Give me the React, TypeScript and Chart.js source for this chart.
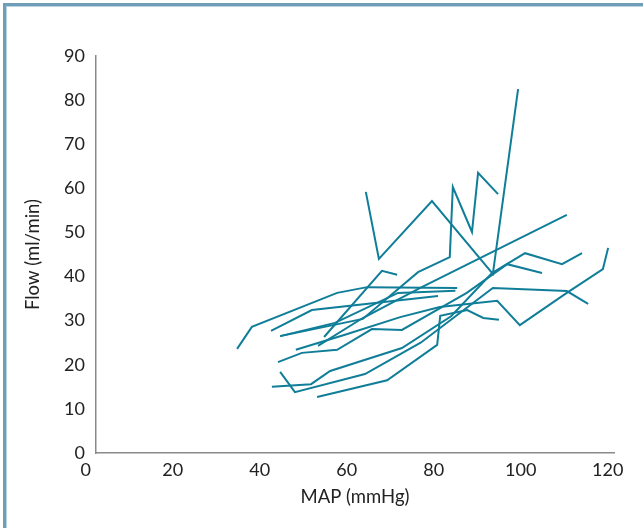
import React, { useEffect, useRef } from "react";
import { Chart, registerables } from "chart.js";
Chart.register(...registerables);

const xTickValues = [0, 20, 40, 60, 80, 100, 120];
const yTickValues = [0, 10, 20, 30, 40, 50, 60, 70, 80, 90];
const xTitle = "MAP (mmHg)";
const yTitle = "Flow (ml/min)";

// MAP (x) and Flow (y) per subject
const s1Map = [34.8, 38.2, 57.8, 64.7, 85.4];
const s1Flow = [23.6, 28.6, 36.3, 37.6, 37.4];
const s2Map = [42.6, 52.0, 81.0];
const s2Flow = [27.7, 32.4, 35.6];
const s3Map = [54.8, 68.1, 71.6];
const s3Flow = [26.3, 41.3, 40.4];
const s4Map = [64.4, 67.4, 79.6, 93.6, 99.4];
const s4Flow = [59.2, 44.0, 57.1, 40.6, 82.5];
const s5Map = [44.7, 63.7, 76.4, 83.7, 84.4, 88.8, 90.2, 94.8];
const s5Flow = [26.5, 30.4, 41.0, 44.4, 60.3, 50.1, 63.5, 58.7];
const s6Map = [44.7, 57.3, 71.8, 85.0];
const s6Flow = [26.5, 29.5, 36.3, 36.8];
const s7Map = [53.4, 63.7, 76.8, 110.6];
const s7Flow = [24.3, 30.6, 37.4, 54.0];
const s8Map = [44.2, 49.7, 57.8, 65.8, 72.7, 87.6, 96.9, 104.9];
const s8Flow = [20.6, 22.7, 23.4, 28.1, 27.9, 36.3, 42.8, 40.8];
const s9Map = [48.3, 59.6, 72.3, 81.4, 94.6, 99.8, 110.6, 118.9, 120.1];
const s9Flow = [23.4, 26.8, 30.8, 33.1, 34.5, 29.0, 36.3, 41.7, 46.5];
const s10Map = [44.7, 48.1, 64.2, 77.0, 93.6, 110.6, 115.5];
const s10Flow = [18.4, 13.8, 17.9, 25.0, 37.4, 36.7, 33.8];
const s11Map = [42.8, 51.8, 56.2, 72.7, 84.0, 93.4, 101.0, 109.5, 114.1];
const s11Flow = [15.0, 15.6, 18.6, 23.8, 31.0, 40.8, 45.3, 42.8, 45.3];
const s12Map = [53.2, 69.3, 80.8, 81.5, 87.7, 91.4, 95.0];
const s12Flow = [12.7, 16.5, 24.5, 31.1, 32.4, 30.6, 30.2];

const subjects = [
  [s1Map, s1Flow], [s2Map, s2Flow], [s3Map, s3Flow], [s4Map, s4Flow],
  [s5Map, s5Flow], [s6Map, s6Flow], [s7Map, s7Flow], [s8Map, s8Flow],
  [s9Map, s9Flow], [s10Map, s10Flow], [s11Map, s11Flow], [s12Map, s12Flow],
];

const LINE = "#107e98";
const FONT = "Lato, 'DejaVu Sans', sans-serif";

export default function App() {
  const ref = useRef<HTMLCanvasElement>(null);
  useEffect(() => {
    document.body.style.margin = "0";
    document.body.style.overflow = "hidden";
    const chart = new Chart(ref.current!, {
      type: "line",
      data: {
        datasets: subjects.map(([xs, ys], i) => ({
          label: "S" + (i + 1),
          data: xs.map((x, j) => ({ x, y: ys[j] })),
          borderColor: LINE,
          borderWidth: 2,
          pointRadius: 0,
          fill: false,
          tension: 0,
        })),
      },
      options: {
        animation: false,
        responsive: false,
        devicePixelRatio: 1,
        parsing: false,
        layout: { padding: { top: 56, right: 29, bottom: 0, left: 0 } },
        plugins: { legend: { display: false }, tooltip: { enabled: false } },
        scales: {
          x: {
            type: "linear",
            min: 2.37,
            max: 121.45,
            afterBuildTicks: (s: any) => {
              s.ticks = xTickValues.map((v) => ({ value: v }));
            },
            afterFit: (s: any) => {
              s.height = 75;
            },
            grid: { display: false, drawTicks: false },
            border: { display: true, color: "#8a8a8a", width: 1.5 },
            ticks: {
              padding: 6,
              color: "#222",
              font: { family: FONT, size: 18 },
              maxRotation: 0,
              autoSkip: false,
            },
            title: {
              display: true,
              text: xTitle,
              color: "#222",
              font: { family: FONT, size: 18.5 },
              padding: { top: 0, bottom: 20 },
            },
          },
          y: {
            type: "linear",
            min: 0,
            max: 90,
            afterBuildTicks: (s: any) => {
              s.ticks = yTickValues.map((v) => ({ value: v }));
            },
            afterFit: (s: any) => {
              s.width = 96;
            },
            grid: { display: false, drawTicks: false },
            border: { display: true, color: "#8a8a8a", width: 1.5 },
            ticks: {
              padding: 11,
              color: "#222",
              font: { family: FONT, size: 18 },
            },
            title: {
              display: true,
              text: yTitle,
              color: "#222",
              font: { family: FONT, size: 18.5 },
              padding: { top: 22, bottom: 0 },
            },
          },
        },
      },
    });
    return () => chart.destroy();
  }, []);
  return (
    <div style={{ position: "fixed", left: 0, top: 0, width: 643, height: 528, overflow: "hidden", background: "#fff" }}>
      <canvas ref={ref} width={643} height={528} style={{ position: "absolute", left: 0, top: 0 }} />
      <div
        style={{
          position: "absolute",
          left: 3,
          top: 3,
          width: 700,
          height: 600,
          borderTop: "3px solid #6f9fb8",
          borderLeft: "3px solid #6f9fb8",
          boxShadow: "inset 1px 1px 0 #b9d3e0",
          pointerEvents: "none",
        }}
      />
    </div>
  );
}
